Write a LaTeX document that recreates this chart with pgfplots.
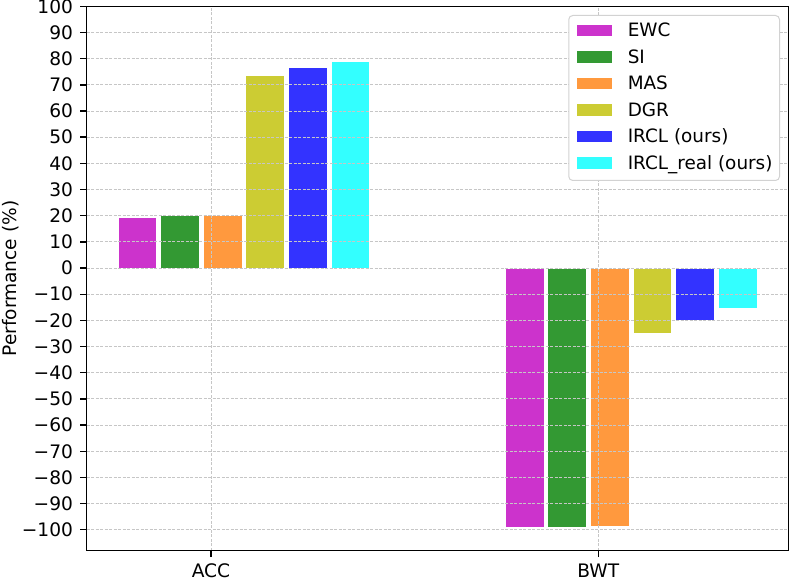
\documentclass[border=0pt]{standalone}
\usepackage{pgfplots}
\pgfplotsset{compat=1.18}
\usepackage{fontspec}
\setmainfont{DejaVu Sans}
\definecolor{cEWC}{HTML}{CC33CC}
\definecolor{cSI}{HTML}{339933}
\definecolor{cMAS}{HTML}{FF993E}
\definecolor{cDGR}{HTML}{CCCC33}
\definecolor{cIRCL}{HTML}{3333FF}
\definecolor{cREAL}{HTML}{33FFFF}
\begin{document}
\fontsize{18.6}{22}\selectfont
\begin{tikzpicture}
\begin{axis}[
  scale only axis,
  width=702pt, height=544.4pt,
  xmin=-0.321, xmax=1.4916,
  ymin=-108, ymax=100,
  xtick={0,1}, xticklabels={ACC,BWT},
  ytick={-100,-90,...,100},
  yticklabels={−100,−90,−80,−70,−60,−50,−40,−30,−20,−10,0,10,20,30,40,50,60,70,80,90,100},
  tick pos=left,
  tick align=outside,
  major tick length=6.5pt,
  tick style={black, line width=1.4pt},
  axis line style={black, line width=1.5pt},
  every tick label/.append style={font=\fontsize{18.6}{22}\selectfont},
  yticklabel style={inner sep=0pt, xshift=-7pt},
  xticklabel style={inner sep=0pt, yshift=-6.5pt, text height=13.6pt},
  ylabel={Performance (\%)},
  ylabel style={at={(axis description cs:-0.1211,0.5)}, anchor=north, inner sep=0pt, font=\fontsize{18.6}{22}\selectfont},
  grid=major,
  major grid style={gray!45, line width=0.9pt, dash pattern=on 3pt off 1.5pt},
  axis on top,
  ybar,
  bar width=0.1,
  every axis plot/.append style={draw=white, line width=1pt},
  legend cell align=left,
  legend image code/.code={\fill[#1, sharp corners] (0pt,0pt) rectangle (36pt,12.7pt);},
  legend style={at={(axis description cs:1,1)}, anchor=north east, xshift=-8.7pt, yshift=-8.7pt,
    draw=gray!35, line width=1pt, rounded corners=4pt, fill=white,
    inner xsep=7pt, inner ysep=7.5pt, row sep=9pt, column sep=15pt,
    font=\fontsize{18.4}{22}\selectfont,
    nodes={inner sep=0pt, text height=14pt, text depth=3.5pt, anchor=base west}},
]
\addplot[fill=cEWC, bar shift=-0.19] coordinates {(0,19.4) (1,-99.1)};
\addlegendentry{EWC}
\addplot[fill=cSI, bar shift=-0.08] coordinates {(0,19.9) (1,-99.1)};
\addlegendentry{SI}
\addplot[fill=cMAS, bar shift=0.03] coordinates {(0,20.0) (1,-98.8)};
\addlegendentry{MAS}
\addplot[fill=cDGR, bar shift=0.14] coordinates {(0,73.5) (1,-25.2)};
\addlegendentry{DGR}
\addplot[fill=cIRCL, bar shift=0.25] coordinates {(0,76.7) (1,-20.0)};
\addlegendentry{IRCL (ours)}
\addplot[fill=cREAL, bar shift=0.36] coordinates {(0,78.8) (1,-15.5)};
\addlegendentry{IRCL\_real (ours)}
\end{axis}
\pgfresetboundingbox
\path ([shift={(-86.7pt,-30.3pt)}]current axis.south west) rectangle ([shift={(0.3pt,6.3pt)}]current axis.north east);
\end{tikzpicture}
\end{document}
